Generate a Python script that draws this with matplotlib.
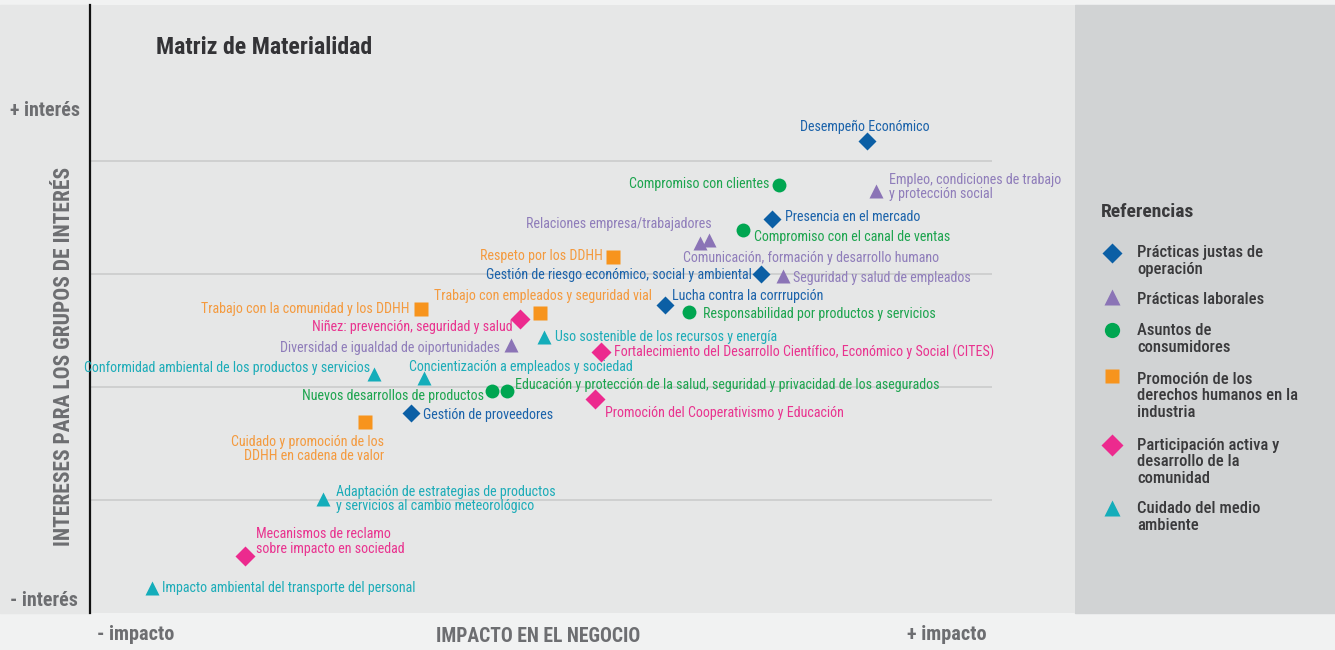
import matplotlib.pyplot as plt
from matplotlib.lines import Line2D
from matplotlib.patches import Rectangle

plt.rcParams['font.family'] = ['Roboto Condensed', 'DejaVu Sans']

# temas de la matriz: impacto en el negocio (x), interés de los grupos (y)
temas = ['Desempeño Económico', 'Presencia en el mercado',
         'Gestión de riesgo económico, social y ambiental',
         'Lucha contra la corrrupción', 'Gestión de proveedores',
         'Empleo, condiciones de trabajo\ny protección social',
         'Relaciones empresa/trabajadores',
         'Comunicación, formación y desarrollo humano',
         'Seguridad y salud de empleados',
         'Diversidad e igualdad de oiportunidades',
         'Compromiso con clientes', 'Compromiso con el canal de ventas',
         'Responsabilidad por productos y servicios',
         'Nuevos desarrollos de productos',
         'Educación y protección de la salud, seguridad y privacidad de los asegurados',
         'Respeto por los DDHH', 'Trabajo con la comunidad y los DDHH',
         'Trabajo con empleados y seguridad vial',
         'Cuidado y promoción de los\nDDHH en cadena de valor',
         'Niñez: prevención, seguridad y salud',
         'Fortalecimiento del Desarrollo Científico, Económico y Social (CITES)',
         'Promoción del Cooperativismo y Educación',
         'Mecanismos de reclamo\nsobre impacto en sociedad',
         'Uso sostenible de los recursos y energía',
         'Conformidad ambiental de los productos y servicios',
         'Concientización a empleados y sociedad',
         'Adaptación de estrategias de productos\ny servicios al cambio meteorológico',
         'Impacto ambiental del transporte del personal']
impacto = [7.89, 6.92, 6.81, 5.84, 3.26,
           7.98, 6.19, 6.28, 7.04, 4.27,
           6.99, 6.63, 6.08, 4.08, 4.23,
           5.31, 3.36, 4.57, 2.79,
           4.37, 5.19, 5.13, 1.57,
           4.61, 2.88, 3.39, 2.37, 0.63]
interes = [4.17, 3.48, 3.00, 2.72, 1.77,
           3.73, 3.27, 3.30, 2.98, 2.37,
           3.78, 3.39, 2.66, 1.96, 1.96,
           3.15, 2.69, 2.65, 1.69,
           2.60, 2.31, 1.89, 0.50,
           2.44, 2.11, 2.08, 1.01, 0.22]
grupo = [0, 0, 0, 0, 0,
         1, 1, 1, 1, 1,
         2, 2, 2, 2, 2,
         3, 3, 3, 3,
         4, 4, 4, 4,
         5, 5, 5, 5, 5]

referencias = ['Prácticas justas de\noperación', 'Prácticas laborales',
               'Asuntos de\nconsumidores',
               'Promoción de los\nderechos humanos en la\nindustria',
               'Participación activa y\ndesarrollo de la\ncomunidad',
               'Cuidado del medio\nambiente']

# estilo por grupo
marcadores = ['D', '^', 'o', 's', 'D', '^']
tamanos = [9, 10, 10, 9.5, 10, 10]
colores = ['#0b5fa5', '#8b74b6', '#00a651', '#f7941d', '#ec2a8e', '#14adba']
colores_txt = ['#1a62aa', '#8f7dba', '#1ca44e', '#f49a3e', '#e9338f', '#1cacb8']

# ubicación de cada etiqueta (ha, dx, dy en px)
etiq = [('center', -2, 14), ('left', 13, 2), ('right', -9, -1), ('left', 7, 9),
        ('left', 12, -2),
        ('left', 13, 4), ('right', 12, 19), ('left', -26, -18), ('left', 10, -2),
        ('right', -11, -3),
        ('right', -9, 1), ('left', 11, -7), ('left', 14, -2), ('right', -8, -5),
        ('left', 8, 6),
        ('right', -10, 1), ('right', -11, 0), ('center', 3, 17), ('right', 19, -27),
        ('right', -8, -8), ('left', 13, -1), ('left', 10, -14), ('left', 11, 15),
        ('left', 11, 0), ('right', -4, 6), ('left', -15, 11), ('left', 13, 0),
        ('left', 10, 0)]

W, H = 1335, 650
fig = plt.figure(figsize=(W / 100, H / 100), dpi=100, facecolor='#f1f2f2')
fig.patches.append(Rectangle((0, 37 / H), 90 / W, 608 / H,
                             transform=fig.transFigure, color='#e6e7e7', zorder=-1))
fig.patches.append(Rectangle((1075 / W, 37 / H), 260 / W, 608 / H,
                             transform=fig.transFigure, color='#d1d3d4', zorder=-1))
ax = fig.add_axes([90 / W, 37 / H, 985 / W, 608 / H], facecolor='#e6e7e7')
ax.set_xlim(0, 10)
ax.set_ylim(0, 5.375)
for s in ['top', 'right', 'bottom']:
    ax.spines[s].set_visible(False)
ax.spines['left'].set_linewidth(1.6)
ax.spines['left'].set_color('#111111')
ax.set_xticks([])
ax.set_yticks([])

ax.hlines([1, 2, 3, 4], 0, 9.16, color='#c9caca', lw=1.1, zorder=1)

for g in range(6):
    xs = [impacto[i] for i in range(len(temas)) if grupo[i] == g]
    ys = [interes[i] for i in range(len(temas)) if grupo[i] == g]
    ax.plot(xs, ys, ls='none', marker=marcadores[g], ms=tamanos[g],
            color=colores[g], mec='none', zorder=3)

for i, t in enumerate(temas):
    ha, dx, dy = etiq[i]
    ma = 'right' if ha == 'right' else 'left'
    ax.annotate(t, (impacto[i], interes[i]), xytext=(dx * 0.72, dy * 0.72),
                textcoords='offset points', ha=ha, va='center', ma=ma,
                fontsize=10.1, color=colores_txt[grupo[i]], linespacing=1.03,
                zorder=4)

ax.text(0.67, 5.0, 'Matriz de Materialidad', fontsize=17.2, fontweight='bold',
        color='#333336', va='center')

gris = '#6d6e71'
fig.text(80 / W, 1 - 111 / H, '+ interés', ha='right', va='center',
         fontsize=14.4, fontweight='bold', color=gris)
fig.text(78 / W, 1 - 601 / H, '- interés', ha='right', va='center',
         fontsize=14.4, fontweight='bold', color=gris)
fig.text(64 / W, 1 - 356 / H, 'INTERESES PARA LOS GRUPOS DE INTERÉS',
         rotation=90, ha='center', va='center', fontsize=15.5,
         fontweight='bold', color=gris)
fig.text(97 / W, 1 - 634 / H, '- impacto', ha='left', va='center',
         fontsize=14.6, fontweight='bold', color=gris)
fig.text(987 / W, 1 - 634 / H, '+ impacto', ha='right', va='center',
         fontsize=14.6, fontweight='bold', color=gris)
fig.text(538 / W, 1 - 637 / H, 'IMPACTO EN EL NEGOCIO', ha='center',
         va='center', fontsize=14.1, fontweight='bold', color=gris)

# referencias
fig.text(1101 / W, 1 - 212 / H, 'Referencias', ha='left', va='center',
         fontsize=14, fontweight='bold', color='#3a3a3c')
ref_y = [253, 297, 330, 376, 445, 508]
txt_y = [261, 300, 339, 396, 462, 517]
for g in range(6):
    fig.add_artist(Line2D([1112 / W], [1 - ref_y[g] / H], transform=fig.transFigure,
                          ls='none', marker=marcadores[g], ms=tamanos[g] + 1,
                          color=colores[g], mec='none'))
    fig.text(1137 / W, 1 - txt_y[g] / H, referencias[g], ha='left', va='center',
             fontsize=12, fontweight=500, color='#3a3a3c', linespacing=1.13)

fig.savefig('out.png', dpi=100, facecolor=fig.get_facecolor())
